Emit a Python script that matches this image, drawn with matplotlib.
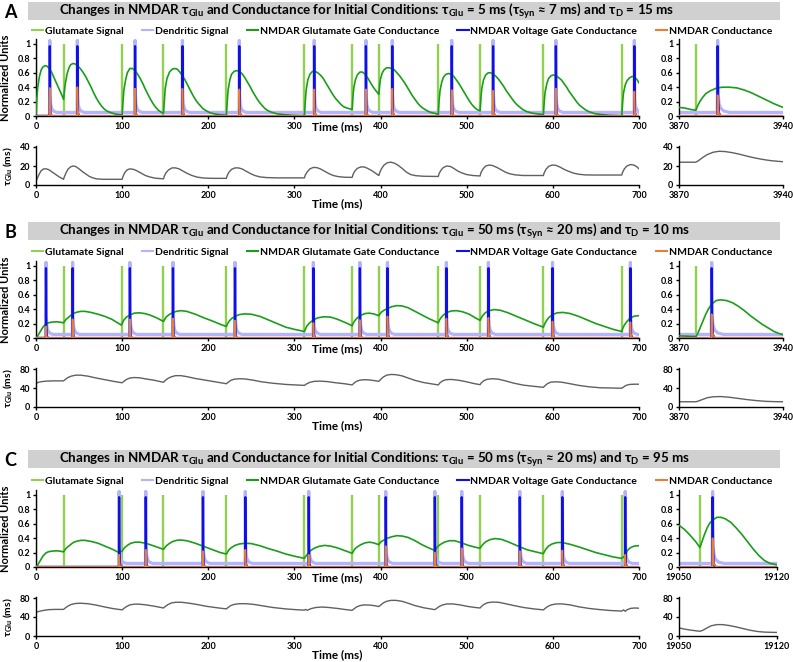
import matplotlib
matplotlib.use('Agg')
import matplotlib.pyplot as plt
from matplotlib.lines import Line2D
from matplotlib.patches import Rectangle
from matplotlib.ticker import FuncFormatter
import numpy as np

plt.rcParams['font.family'] = ['Lato', 'DejaVu Sans']
plt.rcParams['font.weight'] = 'bold'

# colours
col_glu = '#92d050'
col_dend = '#b4b4fa'
col_gate = '#1a9e1a'
col_volt = '#1010e6'
col_nmdar = '#ed7d31'
col_tau = '#606060'

legend_labels = ['Glutamate Signal', 'Dendritic Signal', 'NMDAR Glutamate Gate Conductance',
                 'NMDAR Voltage Gate Conductance', 'NMDAR Conductance']

# glutamate signal times (ms), same in all three runs
glu_times = [0, 32, 100, 148, 221, 311.6, 367, 398, 467, 515.5, 589, 680]

# pulse shapes (offset ms, value)
dend_dt = [0, 0.4, 1, 2, 4, 8]
dend_v = [1.05, 0.3, 0.17, 0.11, 0.07, 0.05]
dend_base = 0.05
volt_dt = [-0.2, 0, 0.3, 0.8, 2]
volt_v = [0, 0.97, 0.3, 0.05, 0]
nmdar_dt = [-0.2, 0, 0.4, 1, 3]
nmdar_f = [0, 1, 0.3, 0.08, 0]

# ---- run A
a_title = 'Changes in NMDAR τ$_{\\mathregular{Glu}}$ and Conductance for Initial Conditions: τ$_{\\mathregular{Glu}}$ = 5 ms (τ$_{\\mathregular{Syn}}$ ≈ 7 ms) and τ$_{\\mathregular{D}}$ = 15 ms'
a_spikes = [16, 48, 115, 170, 236, 323, 383, 413.6, 482.6, 530.6, 603.5, 694.6]
a_nmdar = [0.39, 0.40, 0.38, 0.38, 0.37, 0.37, 0.37, 0.38, 0.36, 0.35, 0.38, 0.34]
a_gate = [(0, 0), (1, 0.25), (2, 0.4), (4, 0.55), (6, 0.64), (8, 0.68), (10.5, 0.70), (13, 0.69), (16, 0.65), (18, 0.61),
          (21, 0.53), (24, 0.45), (27, 0.37), (30, 0.29), (32, 0.23),
          (33, 0.35), (34, 0.45), (36, 0.58), (38, 0.66), (40, 0.71), (43, 0.73), (46, 0.72), (49, 0.69), (52, 0.65),
          (55, 0.60), (58, 0.54), (61, 0.47), (64, 0.40), (67, 0.32), (70, 0.25), (73, 0.19), (76, 0.14), (79, 0.10),
          (82, 0.07), (86, 0.05), (90, 0.035), (95, 0.02), (100, 0.015),
          (101, 0.2), (102, 0.36), (104, 0.5), (106, 0.6), (109, 0.66), (112, 0.66), (115, 0.63), (118, 0.58),
          (121, 0.52), (124, 0.45), (127, 0.37), (130, 0.3), (133, 0.23), (136, 0.17), (139, 0.12), (142, 0.08),
          (145, 0.055), (148, 0.04),
          (149, 0.22), (150, 0.38), (152, 0.52), (155, 0.61), (158, 0.65), (161, 0.66), (164, 0.65), (167, 0.61),
          (170, 0.56), (173, 0.5), (176, 0.43), (179, 0.36), (182, 0.29), (185, 0.23), (188, 0.18), (191, 0.14),
          (194, 0.1), (198, 0.07), (202, 0.045), (207, 0.03), (213, 0.018), (221, 0.01),
          (222, 0.2), (223, 0.36), (225, 0.5), (227, 0.58), (230, 0.62), (233, 0.63), (236, 0.62), (239, 0.59),
          (242, 0.54), (245, 0.48), (248, 0.42), (251, 0.35), (254, 0.29), (257, 0.23), (260, 0.18), (263, 0.14),
          (266, 0.1), (270, 0.07), (274, 0.05), (280, 0.03), (288, 0.018), (298, 0.01), (311.6, 0.005),
          (312.6, 0.2), (313.6, 0.36), (315.5, 0.5), (318, 0.58), (321, 0.62), (324, 0.62), (327, 0.6), (330, 0.57),
          (333, 0.53), (336, 0.47), (339, 0.41), (342, 0.35), (345, 0.29), (348, 0.24), (351, 0.2), (354, 0.16),
          (357, 0.13), (361, 0.11), (367, 0.09),
          (368, 0.28), (369, 0.4), (371, 0.51), (373, 0.57), (376, 0.61), (379, 0.61), (382, 0.58), (385, 0.53),
          (388, 0.47), (391, 0.41), (394, 0.36), (396, 0.33), (398, 0.3),
          (399, 0.44), (400, 0.52), (402, 0.6), (404, 0.64), (407, 0.67), (410, 0.67), (413, 0.66), (416, 0.64),
          (419, 0.6), (422, 0.56), (425, 0.51), (428, 0.46), (431, 0.40), (434, 0.34), (437, 0.28), (440, 0.23),
          (443, 0.18), (446, 0.14), (449, 0.11), (453, 0.08), (458, 0.05), (467, 0.025),
          (468, 0.22), (469, 0.35), (471, 0.47), (473, 0.54), (476, 0.58), (479, 0.59), (482, 0.58), (485, 0.55),
          (488, 0.5), (491, 0.45), (494, 0.39), (497, 0.33), (500, 0.27), (503, 0.21), (506, 0.16), (509, 0.12),
          (512, 0.09), (515.5, 0.07),
          (516.5, 0.25), (517.5, 0.38), (519.5, 0.5), (522, 0.57), (525, 0.6), (528, 0.6), (531, 0.58), (534, 0.55),
          (537, 0.51), (540, 0.46), (543, 0.41), (546, 0.35), (549, 0.3), (552, 0.25), (555, 0.2), (558, 0.16),
          (561, 0.13), (565, 0.09), (570, 0.06), (576, 0.04), (583, 0.028), (589, 0.02),
          (590, 0.2), (591, 0.33), (593, 0.45), (595, 0.52), (598, 0.56), (601, 0.57), (604, 0.56), (607, 0.53),
          (610, 0.5), (613, 0.45), (616, 0.4), (619, 0.34), (622, 0.29), (625, 0.24), (628, 0.19), (631, 0.15),
          (634, 0.12), (638, 0.085), (642, 0.06), (648, 0.035), (656, 0.02), (666, 0.01), (680, 0.005),
          (681, 0.2), (682, 0.32), (684, 0.43), (686, 0.49), (689, 0.53), (692, 0.55), (695, 0.54), (698, 0.5),
          (700, 0.46)]
a_tau = [(0, 4), (2, 8), (4, 12), (6, 15), (9, 17), (12, 17), (15, 16), (19, 13.5), (23, 11), (27, 8.5), (32, 6),
         (33, 9), (35, 13), (37, 16.5), (40, 19), (43, 20), (46, 19.5), (50, 17), (54, 14), (58, 11.5), (62, 9),
         (66, 7.5), (70, 6.5), (78, 6), (100, 6),
         (101, 9), (103, 13), (106, 16), (109, 17), (113, 16.5), (117, 15), (122, 12.5), (127, 10), (132, 8.5),
         (138, 7.2), (148, 6.5),
         (149, 9.5), (151, 13), (154, 16), (158, 18), (162, 18), (166, 17), (171, 14.5), (176, 12), (181, 10),
         (187, 8.3), (195, 7.3), (205, 7), (221, 7),
         (222, 10), (224, 13.5), (227, 16.5), (231, 18), (235, 18), (239, 17), (244, 14.5), (249, 12), (254, 10),
         (260, 8.5), (268, 7.8), (280, 7.5), (311.6, 7.5),
         (312.6, 10.5), (315, 14), (318, 17), (322, 18.5), (326, 18.3), (330, 17), (335, 14.5), (340, 12),
         (345, 10), (351, 8.8), (358, 8.2), (367, 8),
         (368, 11), (370, 14.5), (373, 17.5), (377, 19), (381, 19), (385, 17.5), (390, 15), (394, 12.5), (398, 10),
         (399, 13), (401, 17), (404, 21), (408, 23.5), (412, 24), (416, 23), (420, 21), (425, 17.5), (430, 13.5),
         (435, 11), (441, 9.8), (450, 9.2), (467, 9),
         (468, 12), (470, 15.5), (473, 18.5), (477, 20), (481, 19.5), (485, 17.5), (490, 14.5), (495, 12.5),
         (500, 11), (507, 10), (515.5, 9.5),
         (516.5, 13), (519, 17), (522, 20), (526, 21), (530, 20.5), (535, 18.5), (540, 16), (545, 13.5),
         (550, 11.8), (556, 10.7), (565, 10), (589, 10),
         (590, 13), (592, 16.5), (595, 19.5), (599, 21), (603, 20.8), (608, 19), (613, 16.5), (618, 14.5),
         (624, 12.5), (630, 11.3), (638, 10.6), (650, 10.5), (680, 10.5),
         (681, 13.5), (683, 17), (686, 20), (690, 21.5), (694, 21), (697, 19.5), (700, 17)]
a_zxlim = [3870, 3940]
a_zglu = [3881.3]
a_zspikes = [3896]
a_znmdar = [0.29]
a_zgate = [(3870, 0.12), (3874, 0.11), (3878, 0.09), (3881.3, 0.08), (3882.3, 0.13), (3884, 0.2), (3886, 0.26),
           (3888, 0.31), (3891, 0.35), (3895, 0.385), (3899, 0.4), (3904, 0.4), (3909, 0.39), (3914, 0.36),
           (3919, 0.32), (3924, 0.27), (3929, 0.22), (3934, 0.17), (3940, 0.12)]
a_ztau = [(3870, 24), (3881.3, 24), (3883, 25.5), (3886, 29), (3889, 32), (3893, 34.5), (3897, 35.5), (3901, 35.2),
          (3906, 34), (3911, 32.3), (3916, 30.3), (3921, 28.5), (3926, 27), (3931, 25.8), (3936, 25), (3940, 24.5)]
a_tau_ticks = [0, 20, 40]

# ---- run B
b_title = 'Changes in NMDAR τ$_{\\mathregular{Glu}}$ and Conductance for Initial Conditions: τ$_{\\mathregular{Glu}}$ = 50 ms (τ$_{\\mathregular{Syn}}$ ≈ 20 ms) and τ$_{\\mathregular{D}}$ = 10 ms'
b_spikes = [11.6, 42.5, 109, 159, 231, 322, 376, 408, 476.4, 525.2, 599.6, 690]
b_nmdar = [0.16, 0.26, 0.26, 0.27, 0.24, 0.21, 0.25, 0.30, 0.27, 0.28, 0.23, 0.22]
b_gate = [(0, 0), (2, 0.03), (4, 0.07), (6, 0.11), (8, 0.15), (11, 0.19), (14, 0.21), (18, 0.22), (24, 0.225),
          (28, 0.22), (32, 0.21),
          (33, 0.23), (35, 0.26), (38, 0.29), (41, 0.32), (44, 0.345), (48, 0.36), (52, 0.37), (57, 0.37),
          (64, 0.355), (72, 0.33), (80, 0.3), (88, 0.26), (95, 0.21), (99, 0.18),
          (100, 0.2), (102, 0.25), (105, 0.29), (109, 0.32), (114, 0.345), (120, 0.35), (126, 0.34), (132, 0.32),
          (140, 0.28), (148, 0.23),
          (149, 0.25), (151, 0.29), (154, 0.32), (158, 0.35), (163, 0.37), (168, 0.38), (175, 0.37), (185, 0.33),
          (195, 0.28), (205, 0.235), (214, 0.19), (221, 0.16),
          (222, 0.19), (224, 0.23), (227, 0.27), (231, 0.3), (236, 0.325), (242, 0.335), (250, 0.33), (260, 0.3),
          (270, 0.25), (280, 0.2), (290, 0.15), (300, 0.12), (311.6, 0.09),
          (312.6, 0.12), (314.6, 0.17), (317.6, 0.21), (322, 0.25), (327, 0.28), (334, 0.295), (342, 0.29),
          (350, 0.26), (358, 0.22), (367, 0.17),
          (368, 0.2), (370, 0.24), (373, 0.28), (377, 0.315), (382, 0.34), (387, 0.345), (392, 0.335), (398, 0.31),
          (399, 0.33), (401, 0.36), (404, 0.385), (408, 0.41), (413, 0.435), (419, 0.45), (425, 0.445), (432, 0.42),
          (440, 0.37), (448, 0.32), (456, 0.27), (467, 0.21),
          (468, 0.24), (470, 0.28), (473, 0.32), (477, 0.355), (482, 0.375), (488, 0.38), (495, 0.365), (503, 0.33),
          (510, 0.28), (515.5, 0.245),
          (516.5, 0.27), (518.5, 0.31), (521.5, 0.35), (526, 0.38), (532, 0.395), (539, 0.385), (548, 0.35),
          (558, 0.3), (568, 0.25), (578, 0.2), (589, 0.15),
          (590, 0.18), (592, 0.23), (595, 0.28), (599, 0.32), (605, 0.35), (612, 0.355), (620, 0.34), (630, 0.3),
          (640, 0.25), (650, 0.2), (660, 0.16), (670, 0.12), (680, 0.09),
          (681, 0.13), (683, 0.18), (686, 0.23), (690, 0.28), (695, 0.305), (700, 0.31)]
b_tau = [(0, 50), (3, 52), (7, 53.5), (12, 54.5), (20, 55), (32, 55), (34, 58), (37, 62), (41, 65), (46, 67),
         (52, 67), (60, 65), (70, 61), (80, 57.5), (90, 54), (100, 51),
         (102, 54), (105, 58), (109, 61), (114, 62), (120, 61.5), (128, 59), (138, 56), (148, 52),
         (150, 56), (153, 60), (157, 63.5), (162, 66), (168, 66), (175, 64), (185, 60), (195, 57), (208, 53),
         (221, 49),
         (223, 52), (226, 56), (230, 58.5), (236, 59.5), (243, 59), (252, 56.5), (262, 53), (275, 50), (290, 47.5),
         (311.6, 45.5),
         (314, 48.5), (318, 52), (323, 54), (330, 54.5), (338, 53.5), (348, 51), (358, 49), (367, 46.5),
         (369, 50), (372, 54), (376, 56.5), (381, 57.5), (387, 57), (393, 55.5), (398, 54),
         (400, 58), (403, 63), (407, 67), (412, 68.5), (418, 68), (425, 65.5), (432, 61), (440, 56), (450, 51.5),
         (460, 48.5), (467, 46.5),
         (469, 51), (472, 55), (476, 57.5), (482, 58), (490, 56.5), (500, 53), (508, 49.5), (515.5, 47),
         (517, 51), (520, 55.5), (524, 58.5), (530, 59.5), (537, 58.5), (545, 55), (555, 50), (566, 46),
         (578, 43.5), (589, 41.5),
         (591, 45), (594, 49.5), (598, 52.5), (604, 53), (611, 52), (620, 49), (630, 45.5), (642, 42.5),
         (655, 40.5), (668, 40), (680, 39.5),
         (682, 42), (685, 45.5), (689, 47.5), (695, 48), (700, 48)]
b_zxlim = [3870, 3940]
b_zglu = [3881.3]
b_zspikes = [3892]
b_znmdar = [0.33]
b_zgate = [(3870, 0.03), (3876, 0.025), (3881.3, 0.02), (3882.5, 0.06), (3884, 0.13), (3886, 0.23), (3888, 0.33),
           (3890, 0.41), (3892, 0.47), (3895, 0.52), (3898, 0.53), (3902, 0.52), (3906, 0.49), (3910, 0.44),
           (3914, 0.38), (3918, 0.31), (3922, 0.25), (3926, 0.19), (3930, 0.14), (3934, 0.09), (3937, 0.065),
           (3940, 0.045)]
b_ztau = [(3870, 11), (3881.3, 11), (3883, 12.5), (3886, 16), (3889, 19.5), (3893, 21.5), (3898, 22), (3904, 20.5),
          (3910, 18), (3916, 15.5), (3922, 13.5), (3928, 12), (3934, 11.3), (3940, 11)]
b_tau_ticks = [0, 40, 80]

# ---- run C
c_title = 'Changes in NMDAR τ$_{\\mathregular{Glu}}$ and Conductance for Initial Conditions: τ$_{\\mathregular{Glu}}$ = 50 ms (τ$_{\\mathregular{Syn}}$ ≈ 20 ms) and τ$_{\\mathregular{D}}$ = 95 ms'
c_spikes = [96.5, 127.4, 193.8, 243, 316.6, 406, 463, 494.2, 561.6, 611, 684]
c_nmdar = [0.17, 0.24, 0.22, 0.24, 0.17, 0.29, 0.20, 0.26, 0.22, 0.23, 0.17]
c_gate = [(0, 0), (2, 0.03), (4, 0.07), (6, 0.11), (8, 0.15), (11, 0.19), (14, 0.21), (18, 0.22), (24, 0.225),
          (28, 0.22), (32, 0.21),
          (33, 0.23), (35, 0.26), (38, 0.29), (41, 0.32), (44, 0.345), (48, 0.36), (52, 0.37), (57, 0.37),
          (64, 0.355), (72, 0.33), (80, 0.29), (88, 0.25), (96.5, 0.2),
          (97.5, 0.21), (100, 0.22), (101, 0.24), (103, 0.27), (106, 0.3), (110, 0.33), (115, 0.345), (120, 0.345),
          (127.4, 0.33), (135, 0.3), (142, 0.27), (148, 0.245),
          (149, 0.26), (151, 0.29), (154, 0.32), (158, 0.35), (163, 0.37), (168, 0.375), (175, 0.365), (185, 0.33),
          (193.8, 0.29), (205, 0.24), (214, 0.2), (221, 0.18),
          (222, 0.2), (224, 0.24), (227, 0.27), (231, 0.3), (236, 0.32), (243, 0.33), (250, 0.325), (260, 0.295),
          (270, 0.255), (280, 0.22), (290, 0.18), (300, 0.15), (311.6, 0.12),
          (312.6, 0.14), (316.6, 0.2), (319, 0.23), (323, 0.26), (328, 0.285), (335, 0.3), (342, 0.29),
          (350, 0.265), (358, 0.23), (367, 0.19),
          (368, 0.21), (370, 0.25), (373, 0.28), (377, 0.31), (382, 0.335), (387, 0.345), (392, 0.335), (398, 0.31),
          (399, 0.33), (401, 0.355), (404, 0.375), (408, 0.4), (413, 0.42), (419, 0.435), (425, 0.43), (432, 0.41),
          (440, 0.365), (448, 0.31), (456, 0.265), (463, 0.23),
          (464, 0.25), (466, 0.28), (469, 0.31), (474, 0.345), (480, 0.365), (486, 0.365), (494, 0.335), (502, 0.3),
          (510, 0.275), (515.5, 0.26),
          (516.5, 0.28), (518.5, 0.31), (522, 0.35), (527, 0.38), (533, 0.395), (540, 0.385), (548, 0.35),
          (561.6, 0.28), (570, 0.24), (580, 0.21), (589, 0.185),
          (590, 0.21), (592, 0.25), (595, 0.29), (599, 0.32), (605, 0.34), (611, 0.34), (620, 0.315), (630, 0.28),
          (640, 0.24), (650, 0.2), (660, 0.17), (670, 0.14), (680, 0.12),
          (684, 0.16), (686, 0.22), (689, 0.26), (693, 0.285), (697, 0.295), (700, 0.295)]
c_tau = [(0, 50), (4, 52), (9, 54), (15, 55.5), (22, 56), (32, 56), (34, 59), (37, 63), (41, 66.5), (46, 68.5),
         (52, 69), (60, 68), (70, 65), (80, 61), (90, 57.5), (100, 55),
         (102, 58), (105, 62), (109, 65.5), (114, 67), (120, 67), (128, 65.5), (138, 62.5), (148, 59),
         (150, 62), (153, 66), (157, 69.5), (162, 71), (169, 71), (178, 69), (188, 66), (198, 62.5), (210, 59.5),
         (221, 57),
         (223, 60), (226, 64), (230, 66.5), (236, 68), (244, 68), (253, 66.5), (263, 63.5), (275, 60), (290, 57),
         (305, 55), (311.6, 54.5),
         (313, 56), (315, 54), (317, 56), (320, 58), (325, 60), (332, 61), (340, 60), (350, 58), (360, 55.5),
         (367, 54),
         (369, 57), (372, 61), (376, 64), (381, 65.5), (388, 65), (394, 63.5), (398, 62),
         (400, 65), (403, 69.5), (407, 73), (412, 75), (418, 75), (425, 73), (432, 69), (440, 64), (450, 59.5),
         (458, 57), (463, 55.5),
         (465, 58), (468, 62), (472, 65.5), (477, 67.5), (484, 67.5), (492, 65.5), (502, 62), (510, 60),
         (515.5, 59),
         (517, 62), (520, 66.5), (524, 70), (530, 71.5), (537, 71), (545, 68), (555, 64), (566, 60), (578, 57),
         (589, 55),
         (591, 58), (594, 62), (598, 65.5), (604, 67.5), (611, 67.5), (620, 65.5), (630, 61.5), (642, 58),
         (655, 55.5), (668, 53.5), (680, 52.5),
         (682, 55), (684, 52), (686, 55), (690, 58), (695, 59), (700, 58.5)]
c_zxlim = [19050, 19120]
c_zglu = [19065]
c_zspikes = [19074]
c_znmdar = [0.40]
c_zgate = [(19050, 0.58), (19054, 0.52), (19058, 0.44), (19062, 0.35), (19065, 0.27), (19066, 0.33), (19068, 0.44),
           (19070, 0.54), (19072, 0.61), (19074, 0.65), (19077, 0.69), (19080, 0.69), (19083, 0.67), (19087, 0.62),
           (19091, 0.54), (19095, 0.45), (19099, 0.35), (19103, 0.25), (19107, 0.16), (19111, 0.09), (19115, 0.05),
           (19120, 0.03)]
c_ztau = [(19050, 17), (19054, 14.5), (19058, 12.5), (19062, 11), (19065, 10), (19067, 12), (19070, 17),
          (19073, 21.5), (19077, 24), (19081, 24), (19086, 22), (19091, 19), (19096, 15.5), (19101, 12),
          (19106, 9.5), (19111, 8.2), (19115, 7.8), (19120, 7.5)]
c_tau_ticks = [0, 40, 80]

main_xticks = [0, 100, 200, 300, 400, 500, 600, 700]
signal_yticks = [0, 0.2, 0.4, 0.6, 0.8, 1]

W, H = 793, 662
fig = plt.figure(figsize=(W / 100, H / 100), dpi=100)


def rect(left, right, top, bottom):
    # pixel box -> figure fraction
    return [left / W, 1 - bottom / H, (right - left) / W, (bottom - top) / H]


def style(ax, xlim, xticks, ylim, yticks):
    ax.set_xlim(xlim)
    ax.set_ylim(ylim)
    ax.set_xticks(xticks)
    ax.set_yticks(yticks)
    ax.yaxis.set_major_formatter(FuncFormatter(lambda v, p: f'{v:g}'))
    ax.spines['top'].set_visible(False)
    ax.spines['right'].set_visible(False)
    ax.spines['left'].set_linewidth(1)
    ax.spines['bottom'].set_linewidth(1)
    ax.tick_params(length=2.5, width=1, labelsize=6.5, pad=1.5)
    ax.patch.set_alpha(0)


def pulses(times, dt, vals, x0, x1, base0, base, scale=None):
    xs, ys = [x0], [base0]
    for i, t in enumerate(times):
        pre = base0 if i == 0 else base
        k = 1 if scale is None else scale[i]
        xs += [t - 0.3] + [t + d for d in dt]
        ys += [pre] + [v * k for v in vals]
    xs.append(x1)
    ys.append(base)
    return xs, ys


def signal_panel(ax, xlim, xticks, glu, spikes, nmdar, gate, dend0):
    x0, x1 = xlim
    ax.vlines(glu, 0, 1, color=col_glu, lw=1.7, zorder=1)
    dx, dy = pulses(spikes, dend_dt, dend_v, x0, x1, dend0, dend_base)
    ax.plot(dx, dy, color=col_dend, lw=2.3, zorder=2)
    g = np.array(gate).T
    ax.plot(g[0], g[1], color=col_gate, lw=1.2, zorder=3)
    vx, vy = pulses(spikes, volt_dt, volt_v, x0, x1, 0, 0)
    ax.plot(vx, vy, color=col_volt, lw=1.6, zorder=4)
    nx, ny = pulses(spikes, nmdar_dt, nmdar_f, x0, x1, 0, 0, scale=nmdar)
    ax.plot(nx, ny, color=col_nmdar, lw=1.2, zorder=5)
    style(ax, xlim, xticks, (0, 1.07), signal_yticks)


def tau_panel(ax, xlim, xticks, tau, yticks):
    t = np.array(tau).T
    ax.plot(t[0], t[1], color=col_tau, lw=1)
    style(ax, xlim, xticks, (0, yticks[-1] * 1.03), yticks)


runs = [
    ('A', a_title, a_spikes, a_nmdar, a_gate, a_tau, a_zxlim, a_zglu, a_zspikes, a_znmdar, a_zgate, a_ztau,
     a_tau_ticks),
    ('B', b_title, b_spikes, b_nmdar, b_gate, b_tau, b_zxlim, b_zglu, b_zspikes, b_znmdar, b_zgate, b_ztau,
     b_tau_ticks),
    ('C', c_title, c_spikes, c_nmdar, c_gate, c_tau, c_zxlim, c_zglu, c_zspikes, c_znmdar, c_zgate, c_ztau,
     c_tau_ticks),
]
# vertical pixel layout per run: (bar top, main bottom, tau bottom, right panel right edge)
layout = [(2, 116, 185, 783), (222, 338, 407, 783), (450, 567, 636, 777)]
legend_y = [31, 252, 481]

handles = [Line2D([], [], color=c, lw=1.5) for c in [col_glu, col_dend, col_gate, col_volt, col_nmdar]]

for run, (top, mb, tb, zr), ly in zip(runs, layout, legend_y):
    (letter, title, spikes, nmdar, gate, tau, zxlim, zglu, zspikes, znmdar, zgate, ztau, tticks) = run
    mt = mb - 72 * 1.07

    fig.patches.append(Rectangle((28 / W, 1 - (top + 18) / H), 752 / W, 18 / H, transform=fig.transFigure,
                                 facecolor='#d0d0d0', edgecolor='none', zorder=0))
    fig.text(59 / W, 1 - (top + 9.5) / H, title, fontsize=9.6, fontweight='bold', va='center', ha='left')
    fig.text(4 / W, 1 - (top + 10) / H, letter, fontsize=13, fontweight='bold', va='center', ha='left')
    fig.legend(handles, legend_labels, loc='center left', bbox_to_anchor=(32 / W, 1 - ly / H), ncol=5,
               frameon=False, fontsize=7.5, handlelength=1.1, handletextpad=0.15, columnspacing=1.75,
               borderpad=0, borderaxespad=0)

    ax = fig.add_axes(rect(36, 639, mt, mb))
    signal_panel(ax, (0, 700), main_xticks, glu_times, spikes, nmdar, gate, 0)
    ax.annotate('Time (ms)', xy=(0.5, 0), xycoords='axes fraction', xytext=(0, -8), textcoords='offset points',
                ha='center', va='center', fontsize=8.5, fontweight='bold')

    axz = fig.add_axes(rect(679, zr, mt, mb))
    signal_panel(axz, zxlim, zxlim, zglu, zspikes, znmdar, zgate, dend_base)

    axt = fig.add_axes(rect(36, 639, tb - 38 * 1.03, tb))
    tau_panel(axt, (0, 700), main_xticks, tau, tticks)
    axt.annotate('Time (ms)', xy=(0.5, 0), xycoords='axes fraction', xytext=(0, -13.5), textcoords='offset points',
                 ha='center', va='center', fontsize=8.5, fontweight='bold')

    axtz = fig.add_axes(rect(679, zr, tb - 38 * 1.03, tb))
    tau_panel(axtz, zxlim, zxlim, ztau, tticks)

    fig.text(6 / W, 1 - ((mt + mb) / 2) / H, 'Normalized Units', rotation=90, fontsize=8, fontweight='bold',
             va='center', ha='center')
    fig.text(8 / W, 1 - (tb - 19) / H, 'τ$_{\\mathregular{Glu}}$ (ms)', rotation=90, fontsize=7.5,
             fontweight='bold', va='center', ha='center')

fig.savefig('out.png', dpi=100)
